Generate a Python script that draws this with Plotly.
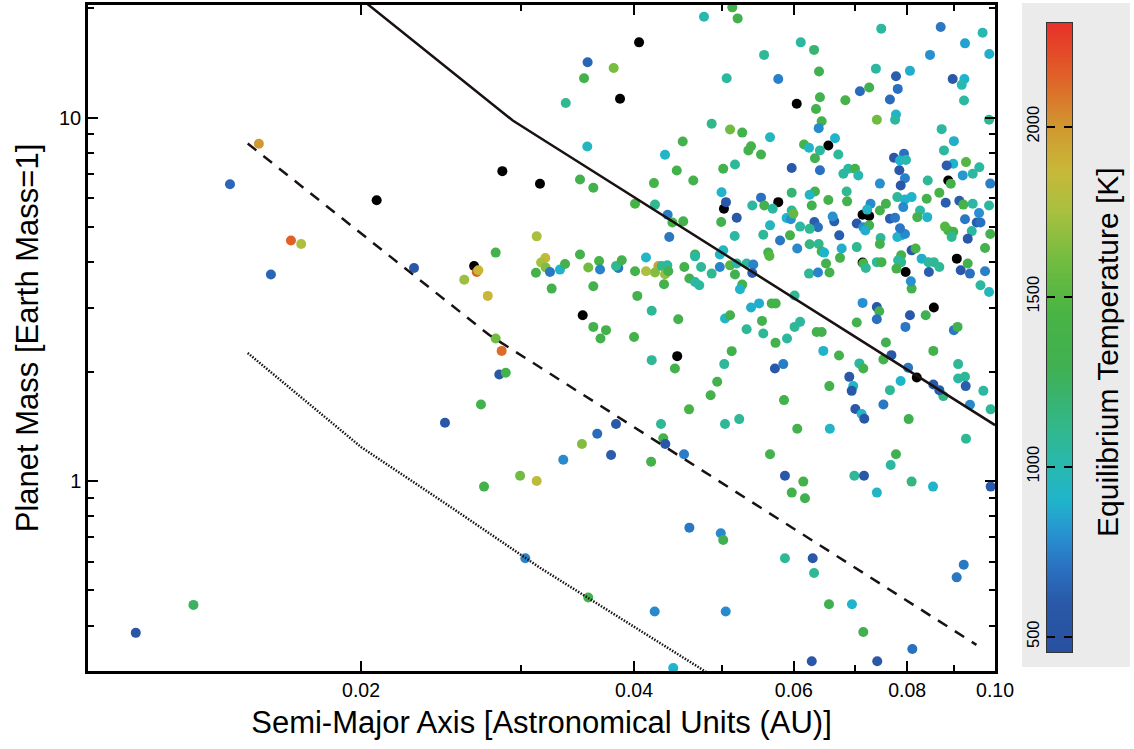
import numpy as np
import plotly.graph_objects as go

# ---------------- data ----------------
# semi-major axis [AU], planet mass [Earth masses], equilibrium temperature [K]
a_au = [
 0.01543,0.01434,0.01674,0.01718,0.01591,0.02288,0.02683,0.02694,0.02815,0.02599,0.02759,0.03124,0.03118,0.02815,
 0.02858,0.02841,0.02888,0.02712,0.02475,0.02995,0.02733,0.03124,0.03035,0.01307,0.01129,0.03193,0.03159,0.03196,
 0.03231,0.03314,0.03357,0.03245,
 0.04777,0.05133,0.05203,0.03555,0.03798,0.03523,0.03363,0.05564,0.05060,0.05768,0.04871,0.05104,0.05264,0.05649,
 0.05383,0.05347,0.05521,0.03552,0.04526,0.04327,0.05168,0.05016,0.04458,
 0.03487,0.03607,0.04649,0.04207,0.04010,0.04218,0.04356,0.04409,0.04532,0.04374,0.04995,0.05051,0.04990,0.05191,
 0.05521,0.05400,0.05568,0.05687,0.05649,0.05553,0.05164,0.05623,0.05640,0.05794,0.03487,0.03561,0.03660,0.03669,
 0.03843,0.03821,0.03877,0.04010,0.04123,0.04123,0.04254,0.04218,0.04291,0.04352,0.04327,0.04363,0.04316,0.04544,
 0.04670,0.04670,0.04742,0.04603,0.04670,0.04720,0.04871,0.04973,0.05016,0.04973,0.05104,0.05191,0.05168,0.05323,
 0.05414,0.05400,0.05264,0.05234,0.03607,0.04033,0.04183,0.04475,0.03607,0.03725,0.05039,0.05104,0.05323,0.05553,
 0.05535,0.05383,0.05494,0.05673,0.05730,0.03673,0.04000,0.05898,0.05728,
 0.06107,0.06317,0.06397,0.07492,0.08712,0.09690,0.09267,0.09856,0.08479,0.07391,0.08058,0.07777,0.07812,0.07097,
 0.07266,0.07659,0.08981,0.09252,0.09190,0.09244,0.06412,0.06348,0.06440,0.06839,0.07409,0.07777,0.07760,0.06392,
 0.06662,0.06158,0.06237,0.06412,0.06331,0.06718,0.08734,0.09009,0.08785,0.07738,0.07937,0.07857,0.07977,0.08995,
 0.09290,0.09610,0.08845,0.09850,0.05968,0.06412,0.06890,0.07009,0.07844,
 0.06805,0.07068,0.07957,0.07871,0.08430,0.09450,0.09213,0.08938,0.09880,0.05968,0.06331,0.06247,0.06550,0.06280,
 0.06862,0.06870,0.07466,0.07804,0.07957,0.08092,0.07922,0.08408,0.08267,0.08210,0.08420,0.08682,0.08824,0.09134,
 0.09228,0.09450,0.09603,0.09850,0.09546,0.09638,0.09267,0.09427,0.09331,0.09750,0.09880,0.08995,0.08881,0.08807,
 0.08957,0.07291,0.07229,0.07466,0.07581,0.07659,0.07760,0.07040,0.07158,0.07266,0.07194,0.06649,0.06622,0.06322,
 0.06380,0.06247,0.06097,0.05968,0.05891,0.05955,0.05994,0.05943,0.06053,0.06247,0.06392,0.06440,0.06480,0.06776,
 0.06734,0.06747,0.06512,0.07040,0.06237,0.06380,0.06569,0.07158,0.07204,0.07408,0.07496,0.07479,0.07466,0.07804,
 0.07880,0.07957,0.07857,0.08092,0.08174,0.07880,0.07820,0.07880,0.07787,0.08301,0.08443,0.08562,0.08455,0.08682,
 0.09166,0.09384,0.09331,0.09750,0.09638,0.09850,0.08092,0.08076,0.07145,0.07408,0.07454,0.07408,0.08387,0.08058,
 0.07040,0.07966,0.09009,0.09093,0.06097,0.06012,0.06012,0.06359,0.06440,
 0.04183,0.04437,0.05125,0.05029,0.04940,0.04858,0.04599,0.04283,0.04308,0.04330,0.04541,0.04177,0.03821,0.03643,
 0.03504,0.03773,0.03342,0.03561,0.04215,0.05048,0.04418,0.04603,0.04985,0.05016,0.05224,0.05039,0.05719,0.05842,
 0.05853,0.06053,0.05649,0.05867,0.06147,0.05969,0.06173,0.05867,0.06295,0.06317,0.06561,0.06955,0.07158,0.08107,
 0.06280,0.07416,0.09237,0.09073,0.09890,0.06997,0.07171,0.07409,0.08092,0.08544,0.07777,0.07674,0.08032,0.09290,
 0.08551,0.09107,0.09107,0.09267,0.09283,0.09709,0.09890,0.09384,0.08770,0.08551,0.08682,0.08021,0.07870,0.07687,
 0.07581,0.07533,0.07659,0.07533,0.07087,0.07158,0.06908,0.06978,0.06950,0.07015,0.07128,0.07176,0.06730,0.06567,
 0.06467,0.06575,
]
mass_earth = [
 8.47,6.55,4.59,4.49,3.70,3.855,3.76,3.80,4.25,3.58,3.23,4.71,3.74,2.466,
 2.28,1.964,1.984,1.624,1.446,1.034,0.965,1.0,0.613,0.456,0.382,4.107,3.99,3.865,
 3.758,3.816,3.954,3.383,
 18.94,20.1,18.74,14.19,13.69,12.82,10.97,14.87,12.82,12.77,9.61,9.27,9.09,8.83,
 8.34,8.12,7.91,8.32,8.59,7.90,7.43,7.23,7.15,
 6.75,6.41,6.71,6.60,5.79,5.76,5.40,5.14,5.18,4.69,6.23,5.85,5.16,5.30,
 6.02,5.73,5.73,5.61,5.05,4.76,4.72,4.25,4.16,4.59,4.20,3.865,4.03,3.82,
 3.855,3.905,4.05,3.775,4.12,3.775,3.905,3.745,3.905,3.92,3.705,3.775,3.476,3.88,
 4.20,4.15,3.88,3.606,3.528,3.456,3.72,4.20,4.31,3.88,3.92,3.965,3.70,3.965,
 3.94,3.735,3.47,3.37,3.434,3.23,2.94,2.786,2.654,2.60,2.80,2.858,2.616,2.545,
 2.757,3.00,3.08,3.08,3.08,2.466,2.49,2.466,2.399,
 16.1,15.35,13.38,17.56,17.75,17.12,16.0,14.96,14.87,13.63,13.44,12.99,11.99,11.81,
 12.09,11.21,12.77,12.77,12.30,11.14,11.37,10.56,9.77,11.16,9.86,10.19,9.86,9.35,
 8.77,8.43,8.26,8.12,7.73,7.91,9.29,8.61,8.12,7.75,7.95,7.62,7.64,7.46,
 7.54,7.30,7.38,9.86,7.26,7.16,7.23,7.23,7.16,
 7.00,6.93,6.81,6.50,6.71,7.00,6.93,6.57,6.58,6.21,6.26,6.13,5.93,5.73,
 6.26,5.88,6.58,6.04,5.95,6.04,5.67,5.98,5.55,5.32,5.32,6.21,5.83,5.90,
 5.76,5.79,5.46,5.73,5.14,5.14,5.25,4.87,4.64,4.375,4.78,4.85,4.89,5.01,
 4.69,5.79,5.58,5.55,5.79,5.27,5.30,5.11,4.99,5.05,4.89,5.18,5.34,5.16,
 4.99,4.94,5.01,5.55,5.29,5.25,5.44,4.74,4.36,4.48,4.49,4.28,4.25,4.36,
 4.74,4.11,3.965,4.40,3.72,3.745,3.745,3.965,3.855,4.0,4.0,4.66,4.49,4.69,
 4.74,4.78,4.96,4.31,4.36,4.18,4.05,4.0,3.84,4.09,4.0,4.0,3.76,3.88,
 3.80,3.72,3.965,3.775,3.456,3.31,3.383,3.545,3.09,3.01,2.93,2.786,2.858,2.858,
 2.73,2.654,2.60,2.654,2.74,2.654,3.24,2.57,2.57,
 2.15,2.04,2.276,2.097,1.874,1.722,1.574,1.434,1.31,1.264,1.184,1.13,1.434,1.349,
 1.264,1.179,1.144,0.478,0.4375,0.4375,0.3056,0.744,0.718,0.688,1.48,1.434,2.04,2.097,
 1.669,1.392,1.184,1.034,0.996,0.929,0.896,0.613,0.613,0.558,0.458,0.458,0.384,0.345,
 0.319,0.319,0.588,0.543,0.965,1.034,1.034,0.929,0.996,0.965,1.184,1.106,1.48,1.307,
 2.28,2.097,1.915,1.935,1.824,1.77,1.574,1.62,1.712,1.843,1.778,2.048,1.883,2.219,
 2.405,2.16,1.778,1.624,2.106,2.04,1.934,1.824,1.77,1.577,1.528,1.483,2.215,1.824,
 2.28,1.392,
]
t_eq = [
 1990,660,2150,1780,650,600,2150,1880,1350,1720,1880,1760,1380,1600,
 2120,580,1350,1330,560,1600,1380,1830,760,1250,560,1860,1740,1650,
 720,900,1350,1350,
 1000,1350,1320,650,1620,1350,1100,1080,1050,750,1120,1600,1350,950,
 1380,1380,1350,950,1350,920,1080,1350,1350,
 1350,1350,1350,1400,1400,1100,740,1350,1350,720,900,580,1350,600,
 700,1050,1380,1050,950,1080,1050,1350,1500,720,1350,1600,1400,760,
 720,1100,1350,1350,920,1780,1950,1650,1100,1050,1700,1350,1350,1350,
 1350,1050,1080,1350,1050,1050,1100,920,950,760,1500,1050,1300,1080,
 760,620,1350,900,1350,1350,1080,1350,1350,1350,950,1350,1080,1080,
 1350,880,880,1380,1380,1350,1350,1050,1350,
 1050,1200,1300,1050,720,1000,850,880,800,1050,880,620,700,680,
 1300,680,600,900,1000,1050,1350,1350,1350,1400,1600,900,1050,780,
 900,1400,920,1050,1300,1080,1050,880,1050,600,700,900,1000,900,
 1500,1050,620,1100,600,700,1050,1350,580,
 1050,1000,750,600,1080,1050,820,1350,750,1200,1350,920,1350,1350,
 1100,1350,800,1080,900,900,780,1350,1050,1350,900,1400,620,620,
 1400,1050,800,1050,620,700,720,1050,580,1350,1350,1350,1400,1500,
 1080,780,920,1350,1350,620,720,600,800,1350,880,620,800,620,
 700,1100,1050,1050,900,800,1550,1350,780,1150,1100,1350,900,880,
 620,1350,1350,1100,1080,760,1350,1450,1080,1080,1350,1080,1350,900,
 920,780,720,580,1400,1350,1050,1080,1350,880,1050,1100,620,1080,
 580,700,1350,750,1050,950,1350,800,800,600,1350,700,1300,600,
 1350,720,720,1300,1050,1080,1080,1350,1350,
 1080,1350,1350,1080,1350,1350,1450,1080,1350,600,740,1350,600,680,
 1650,620,780,1350,780,780,900,720,780,1300,1080,1080,600,740,
 1350,1350,1350,600,1350,1350,1300,1080,580,1080,1300,900,1300,700,
 600,600,720,720,600,1080,600,920,1150,900,1300,1050,1300,1080,
 1350,1080,1050,1080,620,1050,1080,780,1150,600,620,720,900,600,
 1300,1350,1080,720,1050,1350,580,920,600,600,920,600,1350,1350,
 900,920,
]

# planets without a temperature estimate (plotted black)
black_a = [0.02081,0.02863,0.03150,0.02665,0.04051,0.03860,0.05025,0.05768,0.03511,0.06045,
           0.06550,0.08881,0.07145,0.07266,0.07970,0.09076,0.08562,0.07145,0.04463,0.08199]
black_m = [5.92,7.12,6.57,3.905,16.1,11.26,5.61,5.85,2.858,10.91,
           8.38,6.71,5.40,5.36,3.76,4.09,3.00,3.99,2.205,1.927]

# limit curves
solid_a = [0.0190, 0.0294, 0.0315, 0.1000]
solid_m = [23.5, 9.81, 8.80, 1.425]
dashed_a = [0.0150, 0.0277, 0.0954]
dashed_m = [8.48, 2.52, 0.354]
dotted_a = [0.0150, 0.0200, 0.0249, 0.0315, 0.0490]
dotted_m = [2.25, 1.24, 0.86, 0.577, 0.289]

# ticks
x_tick_vals = [0.02, 0.04, 0.06, 0.08, 0.1]
x_tick_text = ["0.02", "0.04", "0.06", "0.08", "0.10"]
x_minor_vals = [0.03, 0.05, 0.07, 0.09]
y_tick_vals = [1, 10]
y_tick_text = ["1", "10"]
y_minor_vals = [0.3, 0.4, 0.5, 0.6, 0.7, 0.8, 0.9, 2, 3, 4, 5, 6, 7, 8, 9, 20]
cbar_tick_vals = [500, 1000, 1500, 2000]
t_min, t_max = 455, 2305

colorscale = [
    [0.000, "#2850a0"], [0.078, "#2a58a8"], [0.132, "#2a70c0"], [0.186, "#2890d0"],
    [0.240, "#20b4cc"], [0.295, "#28b8b0"], [0.349, "#30b890"], [0.403, "#38b470"],
    [0.457, "#40b050"], [0.538, "#48b444"], [0.619, "#70bc40"], [0.700, "#a8c040"],
    [0.765, "#c8b838"], [0.830, "#d09a30"], [0.916, "#e06028"], [1.000, "#e83028"],
]

FONT = "Liberation Sans, Arial, sans-serif"
W, H = 1134, 749
L, R, T, B = 88, 2, 5, 78
pw, ph = W - L - R, H - T - B

def px_x(p):
    return (p - L) / pw

def px_y(p):
    return (H - B - p) / ph

fig = go.Figure()

fig.add_trace(go.Scatter(
    x=black_a, y=black_m, mode="markers",
    marker=dict(size=10, color="black", line=dict(width=0)),
    showlegend=False, hoverinfo="skip"))

fig.add_trace(go.Scatter(
    x=a_au, y=mass_earth, mode="markers",
    marker=dict(size=10, color=t_eq, colorscale=colorscale, cmin=t_min, cmax=t_max,
                line=dict(width=0)),
    showlegend=False))

line_col = "#1a1212"
fig.add_trace(go.Scatter(x=solid_a, y=solid_m, mode="lines",
                         line=dict(color=line_col, width=2.5), showlegend=False))
fig.add_trace(go.Scatter(x=dashed_a, y=dashed_m, mode="lines",
                         line=dict(color=line_col, width=2.5, dash="11px,9px"), showlegend=False))
fig.add_trace(go.Scatter(x=dotted_a, y=dotted_m, mode="lines",
                         line=dict(color=line_col, width=2.5, dash="1.5px,1.5px"), showlegend=False))

# colour bar drawn as a one-column heatmap on its own axes
ramp = np.linspace(t_min, t_max, 400)
fig.add_trace(go.Heatmap(
    z=[[v] for v in ramp], x=[0], y=ramp, colorscale=colorscale,
    zmin=t_min, zmax=t_max, showscale=False, xaxis="x2", yaxis="y2", hoverinfo="skip"))

fig.update_layout(
    width=W, height=H,
    margin=dict(l=L, r=R, t=T, b=B, autoexpand=False),
    paper_bgcolor="white", plot_bgcolor="white",
    font=dict(family=FONT, color="black"),
    xaxis=dict(
        type="log", range=[np.log10(0.01), np.log10(0.1)],
        domain=[0, px_x(995)], anchor="y",
        tickvals=x_tick_vals, ticktext=x_tick_text,
        ticks="inside", ticklen=10, tickwidth=1.5, tickcolor="black",
        minor=dict(tickvals=x_minor_vals, ticks="inside", ticklen=6, tickwidth=1.5,
                   tickcolor="black", showgrid=False),
        mirror="allticks", showline=True, linewidth=2.5, linecolor="black",
        showgrid=False, zeroline=False,
        tickfont=dict(size=19.5, family=FONT),
        title=dict(text="Semi-Major Axis [Astronomical Units (AU)]",
                   font=dict(size=31, family=FONT), standoff=12),
    ),
    yaxis=dict(
        type="log", range=[np.log10(0.3), np.log10(20.4)],
        domain=[0, 1], anchor="x",
        tickvals=y_tick_vals, ticktext=y_tick_text,
        ticks="inside", ticklen=10, tickwidth=1.5, tickcolor="black",
        minor=dict(tickvals=y_minor_vals, ticks="inside", ticklen=6, tickwidth=1.5,
                   tickcolor="black", showgrid=False),
        mirror="allticks", showline=True, linewidth=2.5, linecolor="black",
        showgrid=False, zeroline=False,
        tickfont=dict(size=20, family=FONT),
        title=dict(text="Planet Mass [Earth Mass=1]",
                   font=dict(size=31, family=FONT), standoff=12),
    ),
    xaxis2=dict(
        domain=[px_x(1047), px_x(1072)], anchor="y2", range=[-0.5, 0.5],
        showticklabels=False, ticks="", showgrid=False, zeroline=False,
        showline=True, mirror=True, linewidth=1.2, linecolor="#333333", fixedrange=True,
    ),
    yaxis2=dict(
        domain=[px_y(652), px_y(23)], anchor="x2", range=[t_min, t_max],
        side="left", tickvals=cbar_tick_vals, tickangle=-90,
        ticks="inside", ticklen=8, tickwidth=1.5, tickcolor="black",
        mirror="allticks", showline=True, linewidth=1.2, linecolor="#333333",
        showgrid=False, zeroline=False, layer="above traces",
        tickfont=dict(size=16.5, family=FONT), fixedrange=True,
    ),
    shapes=[dict(type="rect", xref="paper", yref="paper",
                 x0=px_x(1022), x1=px_x(1130), y0=px_y(667), y1=px_y(3),
                 fillcolor="#ebebeb", line=dict(width=0), layer="below")],
    annotations=[dict(text="Equilibrium Temperature [K]", xref="paper", yref="paper",
                      x=px_x(1107), y=px_y(352), textangle=-90, showarrow=False,
                      xanchor="center", yanchor="middle",
                      font=dict(size=30, family=FONT, color="black"))],
)

fig.write_html("out.html")
